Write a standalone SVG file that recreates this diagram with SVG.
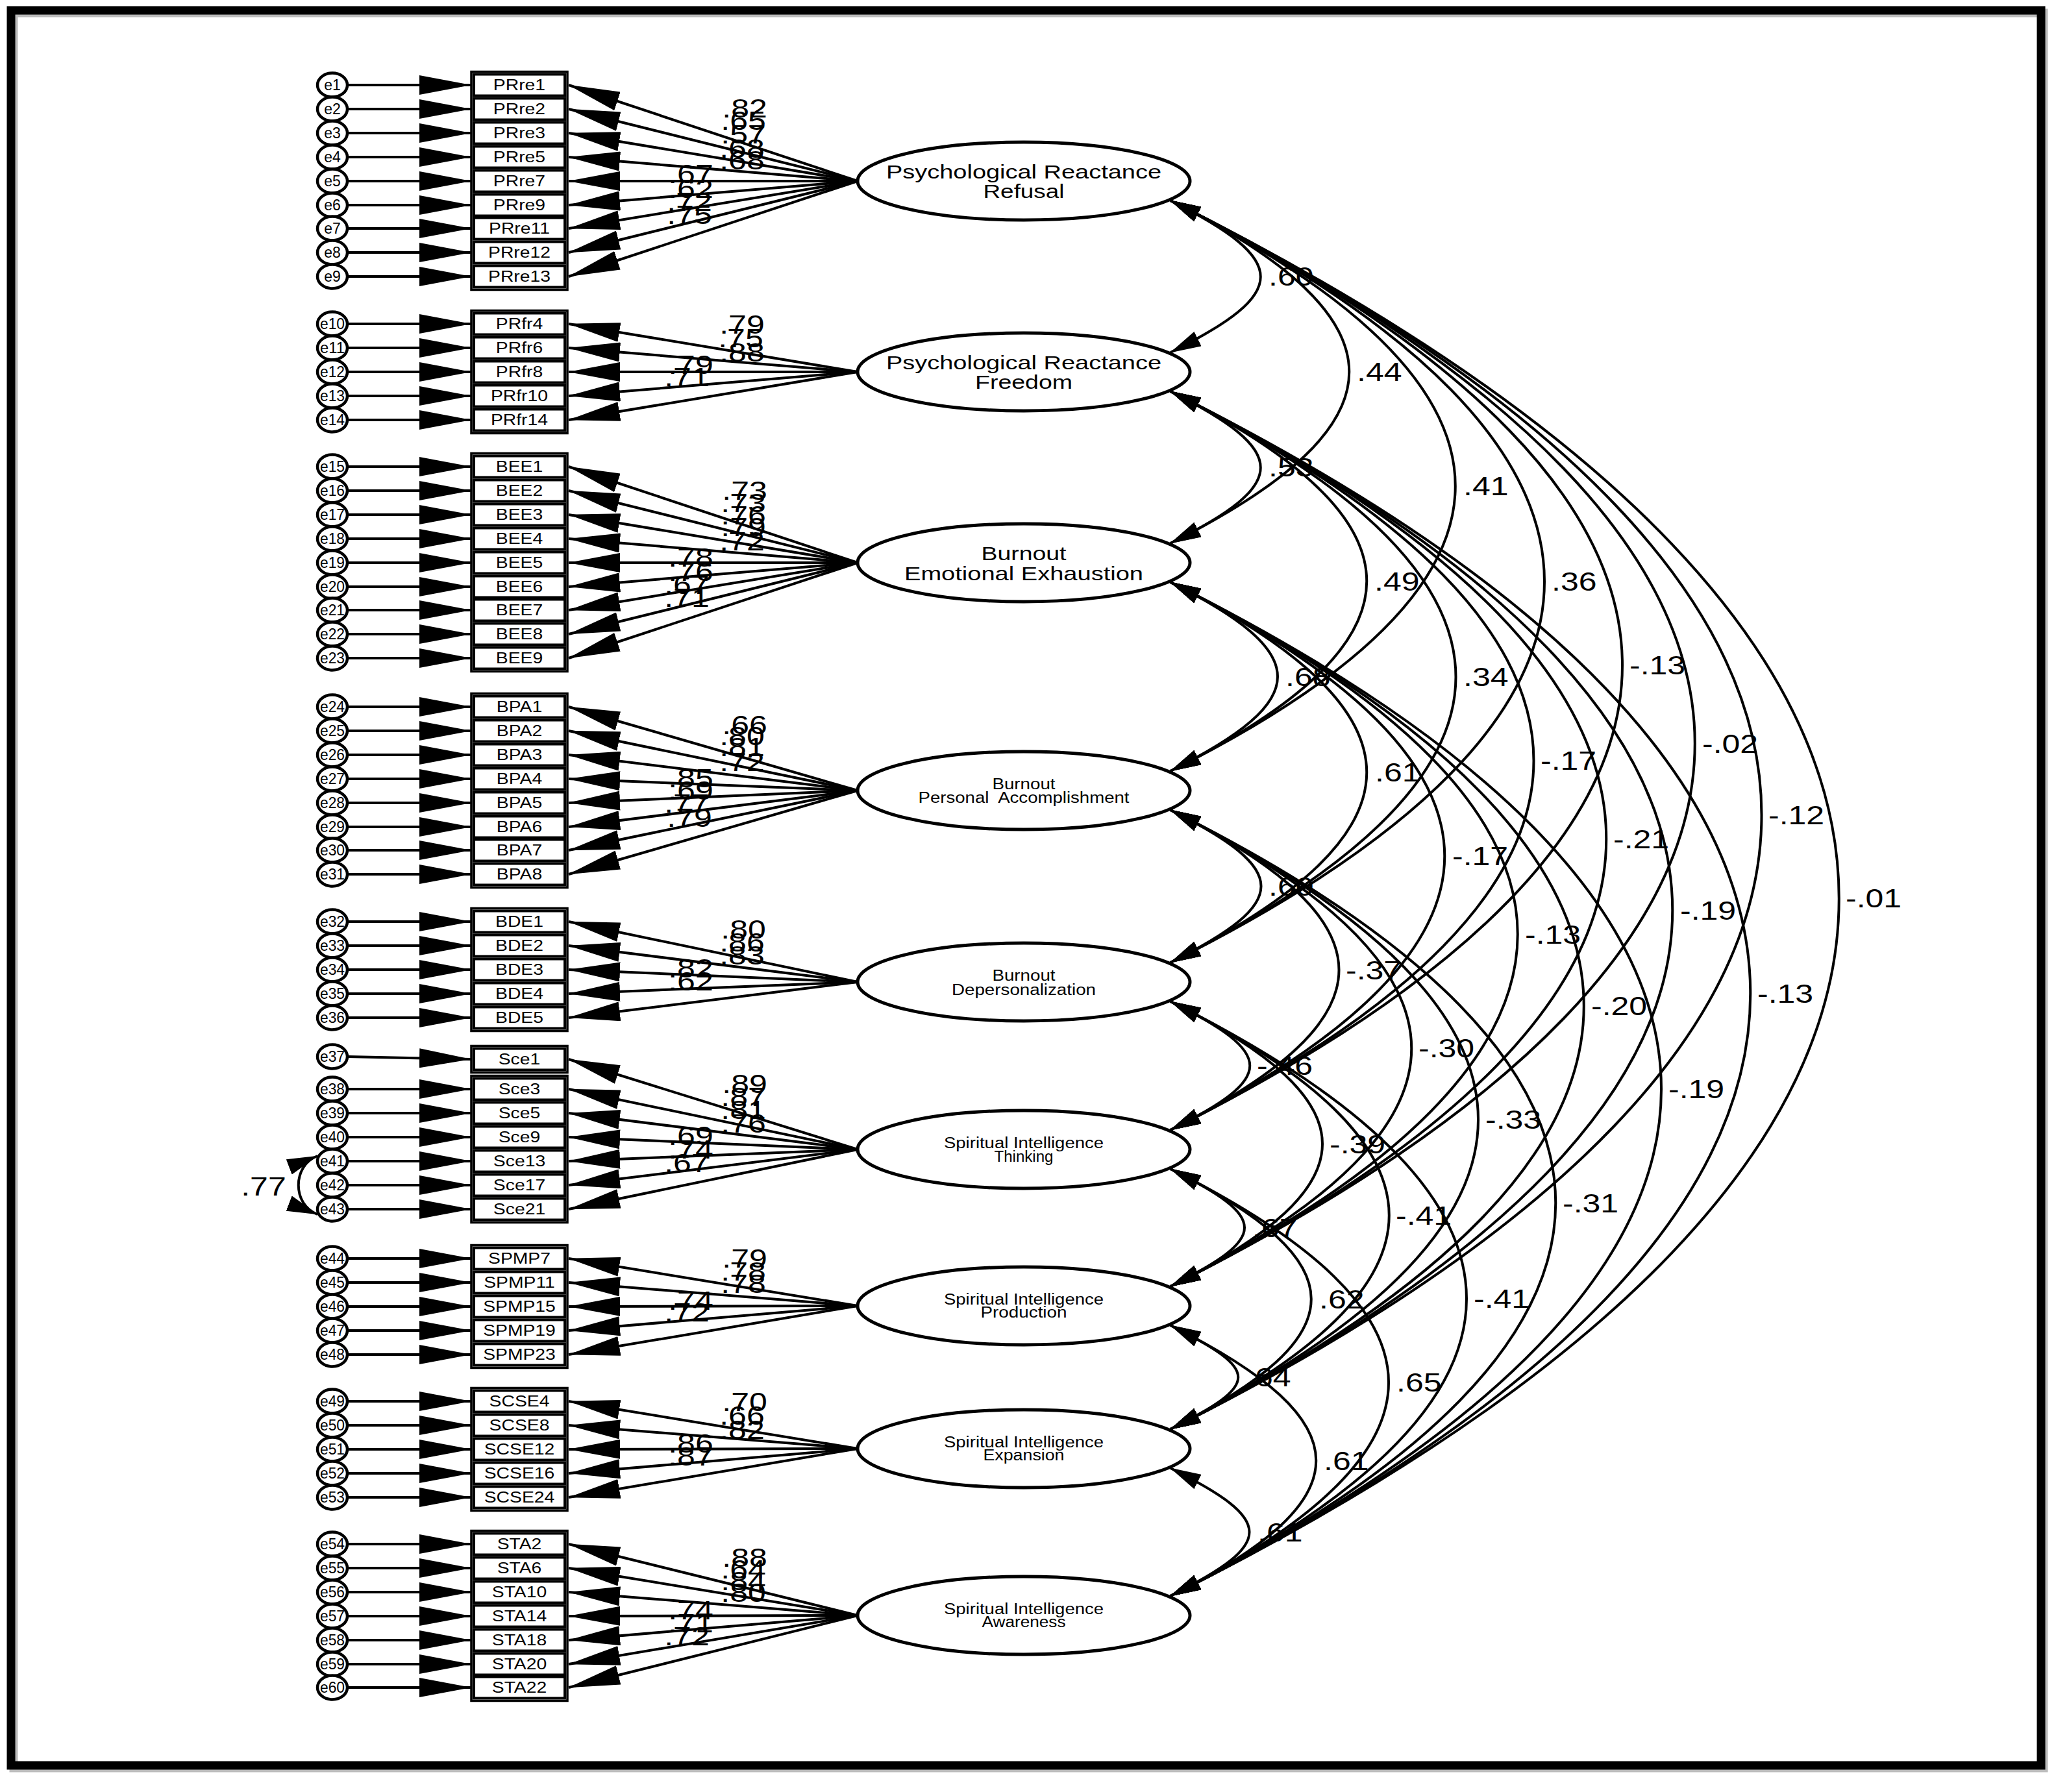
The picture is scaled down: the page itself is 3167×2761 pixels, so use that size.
<svg xmlns="http://www.w3.org/2000/svg" width="3167" height="2761" viewBox="0 0 3167 2761">
<style>
text{font-family:"Liberation Sans",Arial,sans-serif;fill:#000}
.err ellipse{fill:#fff;stroke:#000;stroke-width:4.5}
.err text{font-size:23px;text-anchor:middle}
.obs rect{fill:#fff;stroke:#000;stroke-width:4}
.obs text{font-size:24px;text-anchor:middle;transform-box:fill-box;transform-origin:center;transform:scaleX(1.18)}
.frame rect{fill:none;stroke:#000;stroke-width:3.5}
.lat ellipse{fill:#fff;stroke:#000;stroke-width:5}
.lat text{text-anchor:middle}
.lat .b{font-size:29px}
.lat .s{font-size:23px}
.arr line{stroke:#000;stroke-width:4;fill:none;marker-end:url(#ah)}
.cov path{stroke:#000;stroke-width:4;fill:none;marker-start:url(#ch);marker-end:url(#ch)}
.lbl text{font-size:41px;transform-box:fill-box;transform:scaleX(1.22)}
.ld text{text-anchor:middle;transform-origin:center}
.cl text{transform-origin:left center}
</style>
<defs>
<marker id="ah" viewBox="0 0 80 30" markerWidth="80" markerHeight="30" refX="79" refY="15" orient="auto" markerUnits="userSpaceOnUse"><path d="M0,0 L80,15 L0,30 z" fill="#000"/></marker>
<marker id="ch" viewBox="0 0 48 25" markerWidth="48" markerHeight="25" refX="47" refY="12.5" orient="auto-start-reverse" markerUnits="userSpaceOnUse"><path d="M0,0 L48,12.5 L0,25 z" fill="#000"/></marker>
</defs>
<rect x="0" y="0" width="3167" height="2761" fill="#fff"/>
<rect x="21" y="20" width="3127" height="2704" fill="none" stroke="#bbb" stroke-width="13"/>
<rect x="17" y="16" width="3127" height="2704" fill="none" stroke="#000" stroke-width="13"/>

<g id="connectors">
<g class="arr">
<line x1="535" y1="131" x2="725" y2="131"/><line x1="535" y1="168" x2="725" y2="168"/><line x1="535" y1="205" x2="725" y2="205"/><line x1="535" y1="242" x2="725" y2="242"/><line x1="535" y1="279" x2="725" y2="279"/><line x1="535" y1="316" x2="725" y2="316"/><line x1="535" y1="352" x2="725" y2="352"/><line x1="535" y1="389" x2="725" y2="389"/><line x1="535" y1="426" x2="725" y2="426"/>
<line x1="535" y1="499" x2="725" y2="499"/><line x1="535" y1="536" x2="725" y2="536"/><line x1="535" y1="573" x2="725" y2="573"/><line x1="535" y1="610" x2="725" y2="610"/><line x1="535" y1="647" x2="725" y2="647"/>
<line x1="535" y1="719" x2="725" y2="719"/><line x1="535" y1="756" x2="725" y2="756"/><line x1="535" y1="793" x2="725" y2="793"/><line x1="535" y1="830" x2="725" y2="830"/><line x1="535" y1="867" x2="725" y2="867"/><line x1="535" y1="904" x2="725" y2="904"/><line x1="535" y1="940" x2="725" y2="940"/><line x1="535" y1="977" x2="725" y2="977"/><line x1="535" y1="1014" x2="725" y2="1014"/>
<line x1="535" y1="1089" x2="725" y2="1089"/><line x1="535" y1="1126" x2="725" y2="1126"/><line x1="535" y1="1163" x2="725" y2="1163"/><line x1="535" y1="1200" x2="725" y2="1200"/><line x1="535" y1="1237" x2="725" y2="1237"/><line x1="535" y1="1274" x2="725" y2="1274"/><line x1="535" y1="1310" x2="725" y2="1310"/><line x1="535" y1="1347" x2="725" y2="1347"/>
<line x1="535" y1="1420" x2="725" y2="1420"/><line x1="535" y1="1457" x2="725" y2="1457"/><line x1="535" y1="1494" x2="725" y2="1494"/><line x1="535" y1="1531" x2="725" y2="1531"/><line x1="535" y1="1568" x2="725" y2="1568"/>
<line x1="535" y1="1628" x2="725" y2="1632"/><line x1="535" y1="1678" x2="725" y2="1678"/><line x1="535" y1="1715" x2="725" y2="1715"/><line x1="535" y1="1752" x2="725" y2="1752"/><line x1="535" y1="1789" x2="725" y2="1789"/><line x1="535" y1="1826" x2="725" y2="1826"/><line x1="535" y1="1863" x2="725" y2="1863"/>
<line x1="535" y1="1939" x2="725" y2="1939"/><line x1="535" y1="1976" x2="725" y2="1976"/><line x1="535" y1="2013" x2="725" y2="2013"/><line x1="535" y1="2050" x2="725" y2="2050"/><line x1="535" y1="2087" x2="725" y2="2087"/>
<line x1="535" y1="2159" x2="725" y2="2159"/><line x1="535" y1="2196" x2="725" y2="2196"/><line x1="535" y1="2233" x2="725" y2="2233"/><line x1="535" y1="2270" x2="725" y2="2270"/><line x1="535" y1="2307" x2="725" y2="2307"/>
<line x1="535" y1="2379" x2="725" y2="2379"/><line x1="535" y1="2416" x2="725" y2="2416"/><line x1="535" y1="2453" x2="725" y2="2453"/><line x1="535" y1="2490" x2="725" y2="2490"/><line x1="535" y1="2527" x2="725" y2="2527"/><line x1="535" y1="2564" x2="725" y2="2564"/><line x1="535" y1="2600" x2="725" y2="2600"/>

<line x1="1321" y1="279" x2="876" y2="131"/><line x1="1321" y1="279" x2="876" y2="168"/><line x1="1321" y1="279" x2="876" y2="205"/><line x1="1321" y1="279" x2="876" y2="242"/><line x1="1321" y1="279" x2="876" y2="279"/><line x1="1321" y1="279" x2="876" y2="316"/><line x1="1321" y1="279" x2="876" y2="352"/><line x1="1321" y1="279" x2="876" y2="389"/><line x1="1321" y1="279" x2="876" y2="426"/>
<line x1="1321" y1="573" x2="876" y2="499"/><line x1="1321" y1="573" x2="876" y2="536"/><line x1="1321" y1="573" x2="876" y2="573"/><line x1="1321" y1="573" x2="876" y2="610"/><line x1="1321" y1="573" x2="876" y2="647"/>
<line x1="1321" y1="867" x2="876" y2="719"/><line x1="1321" y1="867" x2="876" y2="756"/><line x1="1321" y1="867" x2="876" y2="793"/><line x1="1321" y1="867" x2="876" y2="830"/><line x1="1321" y1="867" x2="876" y2="867"/><line x1="1321" y1="867" x2="876" y2="904"/><line x1="1321" y1="867" x2="876" y2="940"/><line x1="1321" y1="867" x2="876" y2="977"/><line x1="1321" y1="867" x2="876" y2="1014"/>
<line x1="1321" y1="1218" x2="876" y2="1089"/><line x1="1321" y1="1218" x2="876" y2="1126"/><line x1="1321" y1="1218" x2="876" y2="1163"/><line x1="1321" y1="1218" x2="876" y2="1200"/><line x1="1321" y1="1218" x2="876" y2="1237"/><line x1="1321" y1="1218" x2="876" y2="1274"/><line x1="1321" y1="1218" x2="876" y2="1310"/><line x1="1321" y1="1218" x2="876" y2="1347"/>
<line x1="1321" y1="1513" x2="876" y2="1420"/><line x1="1321" y1="1513" x2="876" y2="1457"/><line x1="1321" y1="1513" x2="876" y2="1494"/><line x1="1321" y1="1513" x2="876" y2="1531"/><line x1="1321" y1="1513" x2="876" y2="1568"/>
<line x1="1321" y1="1771" x2="876" y2="1632"/><line x1="1321" y1="1771" x2="876" y2="1678"/><line x1="1321" y1="1771" x2="876" y2="1715"/><line x1="1321" y1="1771" x2="876" y2="1752"/><line x1="1321" y1="1771" x2="876" y2="1789"/><line x1="1321" y1="1771" x2="876" y2="1826"/><line x1="1321" y1="1771" x2="876" y2="1863"/>
<line x1="1321" y1="2012" x2="876" y2="1939"/><line x1="1321" y1="2012" x2="876" y2="1976"/><line x1="1321" y1="2012" x2="876" y2="2013"/><line x1="1321" y1="2012" x2="876" y2="2050"/><line x1="1321" y1="2012" x2="876" y2="2087"/>
<line x1="1321" y1="2232" x2="876" y2="2159"/><line x1="1321" y1="2232" x2="876" y2="2196"/><line x1="1321" y1="2232" x2="876" y2="2233"/><line x1="1321" y1="2232" x2="876" y2="2270"/><line x1="1321" y1="2232" x2="876" y2="2307"/>
<line x1="1321" y1="2489" x2="876" y2="2379"/><line x1="1321" y1="2489" x2="876" y2="2416"/><line x1="1321" y1="2489" x2="876" y2="2453"/><line x1="1321" y1="2489" x2="876" y2="2490"/><line x1="1321" y1="2489" x2="876" y2="2527"/><line x1="1321" y1="2489" x2="876" y2="2564"/><line x1="1321" y1="2489" x2="876" y2="2600"/>
</g>
<g class="cov">
<path d="M489,1781 C450,1796 450,1856 489,1871"/>
<path d="M1803,309 C1988,402 1988,451 1803,543"/>
<path d="M1803,309 C2170,493 2170,653 1803,837"/>
<path d="M1803,309 C2388,602 2388,896 1803,1188"/>
<path d="M1803,309 C2571,693 2571,1099 1803,1483"/>
<path d="M1803,309 C2731,773 2731,1277 1803,1741"/>
<path d="M1803,309 C2880,848 2880,1443 1803,1982"/>
<path d="M1803,309 C3017,916 3017,1595 1803,2202"/>
<path d="M1803,309 C3176,996 3176,1773 1803,2459"/>
<path d="M1803,603 C1988,696 1988,745 1803,837"/>
<path d="M1803,603 C2206,804 2206,987 1803,1188"/>
<path d="M1803,603 C2389,896 2389,1190 1803,1483"/>
<path d="M1803,603 C2549,976 2549,1368 1803,1741"/>
<path d="M1803,603 C2698,1050 2698,1535 1803,1982"/>
<path d="M1803,603 C2834,1119 2834,1686 1803,2202"/>
<path d="M1803,603 C2994,1198 2994,1864 1803,2459"/>
<path d="M1803,897 C2023,1007 2023,1078 1803,1188"/>
<path d="M1803,897 C2206,1099 2206,1281 1803,1483"/>
<path d="M1803,897 C2366,1179 2366,1459 1803,1741"/>
<path d="M1803,897 C2516,1253 2516,1626 1803,1982"/>
<path d="M1803,897 C2652,1322 2652,1778 1803,2202"/>
<path d="M1803,897 C2811,1401 2811,1955 1803,2459"/>
<path d="M1803,1248 C1989,1341 1989,1390 1803,1483"/>
<path d="M1803,1248 C2149,1421 2149,1568 1803,1741"/>
<path d="M1803,1248 C2298,1496 2298,1735 1803,1982"/>
<path d="M1803,1248 C2435,1564 2435,1886 1803,2202"/>
<path d="M1803,1248 C2594,1643 2594,2064 1803,2459"/>
<path d="M1803,1543 C1966,1624 1966,1660 1803,1741"/>
<path d="M1803,1543 C2115,1699 2115,1826 1803,1982"/>
<path d="M1803,1543 C2252,1767 2252,1978 1803,2202"/>
<path d="M1803,1543 C2411,1847 2411,2155 1803,2459"/>
<path d="M1803,1801 C1955,1877 1955,1906 1803,1982"/>
<path d="M1803,1801 C2092,1945 2092,2058 1803,2202"/>
<path d="M1803,1801 C2251,2025 2251,2235 1803,2459"/>
<path d="M1803,2042 C1942,2112 1942,2132 1803,2202"/>
<path d="M1803,2042 C2102,2191 2102,2310 1803,2459"/>
<path d="M1803,2262 C1965,2343 1965,2378 1803,2459"/>
</g>
</g>

<g id="frames" class="frame">
<rect x="726" y="110.5" width="148" height="336"/>
<rect x="726" y="478.5" width="148" height="189"/>
<rect x="726" y="698.5" width="148" height="336"/>
<rect x="726" y="1068.5" width="148" height="299"/>
<rect x="726" y="1399.5" width="148" height="189"/>
<rect x="726" y="1611.5" width="148" height="41"/>
<rect x="726" y="1657.5" width="148" height="226"/>
<rect x="726" y="1918.5" width="148" height="189"/>
<rect x="726" y="2138.5" width="148" height="189"/>
<rect x="726" y="2358.5" width="148" height="262"/>
</g>

<g id="observed" class="obs">
<g id="PRre1"><rect x="730" y="114.5" width="140" height="33"/><text x="800" y="139">PRre1</text></g>
<g id="PRre2"><rect x="730" y="151.5" width="140" height="33"/><text x="800" y="176">PRre2</text></g>
<g id="PRre3"><rect x="730" y="188.5" width="140" height="33"/><text x="800" y="213">PRre3</text></g>
<g id="PRre5"><rect x="730" y="225.5" width="140" height="33"/><text x="800" y="250">PRre5</text></g>
<g id="PRre7"><rect x="730" y="262.5" width="140" height="33"/><text x="800" y="287">PRre7</text></g>
<g id="PRre9"><rect x="730" y="299.5" width="140" height="33"/><text x="800" y="324">PRre9</text></g>
<g id="PRre11"><rect x="730" y="335.5" width="140" height="33"/><text x="800" y="360">PRre11</text></g>
<g id="PRre12"><rect x="730" y="372.5" width="140" height="33"/><text x="800" y="397">PRre12</text></g>
<g id="PRre13"><rect x="730" y="409.5" width="140" height="33"/><text x="800" y="434">PRre13</text></g>
<g id="PRfr4"><rect x="730" y="482.5" width="140" height="33"/><text x="800" y="507">PRfr4</text></g>
<g id="PRfr6"><rect x="730" y="519.5" width="140" height="33"/><text x="800" y="544">PRfr6</text></g>
<g id="PRfr8"><rect x="730" y="556.5" width="140" height="33"/><text x="800" y="581">PRfr8</text></g>
<g id="PRfr10"><rect x="730" y="593.5" width="140" height="33"/><text x="800" y="618">PRfr10</text></g>
<g id="PRfr14"><rect x="730" y="630.5" width="140" height="33"/><text x="800" y="655">PRfr14</text></g>
<g id="BEE1"><rect x="730" y="702.5" width="140" height="33"/><text x="800" y="727">BEE1</text></g>
<g id="BEE2"><rect x="730" y="739.5" width="140" height="33"/><text x="800" y="764">BEE2</text></g>
<g id="BEE3"><rect x="730" y="776.5" width="140" height="33"/><text x="800" y="801">BEE3</text></g>
<g id="BEE4"><rect x="730" y="813.5" width="140" height="33"/><text x="800" y="838">BEE4</text></g>
<g id="BEE5"><rect x="730" y="850.5" width="140" height="33"/><text x="800" y="875">BEE5</text></g>
<g id="BEE6"><rect x="730" y="887.5" width="140" height="33"/><text x="800" y="912">BEE6</text></g>
<g id="BEE7"><rect x="730" y="923.5" width="140" height="33"/><text x="800" y="948">BEE7</text></g>
<g id="BEE8"><rect x="730" y="960.5" width="140" height="33"/><text x="800" y="985">BEE8</text></g>
<g id="BEE9"><rect x="730" y="997.5" width="140" height="33"/><text x="800" y="1022">BEE9</text></g>
<g id="BPA1"><rect x="730" y="1072.5" width="140" height="33"/><text x="800" y="1097">BPA1</text></g>
<g id="BPA2"><rect x="730" y="1109.5" width="140" height="33"/><text x="800" y="1134">BPA2</text></g>
<g id="BPA3"><rect x="730" y="1146.5" width="140" height="33"/><text x="800" y="1171">BPA3</text></g>
<g id="BPA4"><rect x="730" y="1183.5" width="140" height="33"/><text x="800" y="1208">BPA4</text></g>
<g id="BPA5"><rect x="730" y="1220.5" width="140" height="33"/><text x="800" y="1245">BPA5</text></g>
<g id="BPA6"><rect x="730" y="1257.5" width="140" height="33"/><text x="800" y="1282">BPA6</text></g>
<g id="BPA7"><rect x="730" y="1293.5" width="140" height="33"/><text x="800" y="1318">BPA7</text></g>
<g id="BPA8"><rect x="730" y="1330.5" width="140" height="33"/><text x="800" y="1355">BPA8</text></g>
<g id="BDE1"><rect x="730" y="1403.5" width="140" height="33"/><text x="800" y="1428">BDE1</text></g>
<g id="BDE2"><rect x="730" y="1440.5" width="140" height="33"/><text x="800" y="1465">BDE2</text></g>
<g id="BDE3"><rect x="730" y="1477.5" width="140" height="33"/><text x="800" y="1502">BDE3</text></g>
<g id="BDE4"><rect x="730" y="1514.5" width="140" height="33"/><text x="800" y="1539">BDE4</text></g>
<g id="BDE5"><rect x="730" y="1551.5" width="140" height="33"/><text x="800" y="1576">BDE5</text></g>
<g id="Sce1"><rect x="730" y="1615.5" width="140" height="33"/><text x="800" y="1640">Sce1</text></g>
<g id="Sce3"><rect x="730" y="1661.5" width="140" height="33"/><text x="800" y="1686">Sce3</text></g>
<g id="Sce5"><rect x="730" y="1698.5" width="140" height="33"/><text x="800" y="1723">Sce5</text></g>
<g id="Sce9"><rect x="730" y="1735.5" width="140" height="33"/><text x="800" y="1760">Sce9</text></g>
<g id="Sce13"><rect x="730" y="1772.5" width="140" height="33"/><text x="800" y="1797">Sce13</text></g>
<g id="Sce17"><rect x="730" y="1809.5" width="140" height="33"/><text x="800" y="1834">Sce17</text></g>
<g id="Sce21"><rect x="730" y="1846.5" width="140" height="33"/><text x="800" y="1871">Sce21</text></g>
<g id="SPMP7"><rect x="730" y="1922.5" width="140" height="33"/><text x="800" y="1947">SPMP7</text></g>
<g id="SPMP11"><rect x="730" y="1959.5" width="140" height="33"/><text x="800" y="1984">SPMP11</text></g>
<g id="SPMP15"><rect x="730" y="1996.5" width="140" height="33"/><text x="800" y="2021">SPMP15</text></g>
<g id="SPMP19"><rect x="730" y="2033.5" width="140" height="33"/><text x="800" y="2058">SPMP19</text></g>
<g id="SPMP23"><rect x="730" y="2070.5" width="140" height="33"/><text x="800" y="2095">SPMP23</text></g>
<g id="SCSE4"><rect x="730" y="2142.5" width="140" height="33"/><text x="800" y="2167">SCSE4</text></g>
<g id="SCSE8"><rect x="730" y="2179.5" width="140" height="33"/><text x="800" y="2204">SCSE8</text></g>
<g id="SCSE12"><rect x="730" y="2216.5" width="140" height="33"/><text x="800" y="2241">SCSE12</text></g>
<g id="SCSE16"><rect x="730" y="2253.5" width="140" height="33"/><text x="800" y="2278">SCSE16</text></g>
<g id="SCSE24"><rect x="730" y="2290.5" width="140" height="33"/><text x="800" y="2315">SCSE24</text></g>
<g id="STA2"><rect x="730" y="2362.5" width="140" height="33"/><text x="800" y="2387">STA2</text></g>
<g id="STA6"><rect x="730" y="2399.5" width="140" height="33"/><text x="800" y="2424">STA6</text></g>
<g id="STA10"><rect x="730" y="2436.5" width="140" height="33"/><text x="800" y="2461">STA10</text></g>
<g id="STA14"><rect x="730" y="2473.5" width="140" height="33"/><text x="800" y="2498">STA14</text></g>
<g id="STA18"><rect x="730" y="2510.5" width="140" height="33"/><text x="800" y="2535">STA18</text></g>
<g id="STA20"><rect x="730" y="2547.5" width="140" height="33"/><text x="800" y="2572">STA20</text></g>
<g id="STA22"><rect x="730" y="2583.5" width="140" height="33"/><text x="800" y="2608">STA22</text></g>
</g>

<g id="errors" class="err">
<g id="e1"><ellipse cx="512" cy="131" rx="23" ry="18.5"/><text x="512" y="139">e1</text></g>
<g id="e2"><ellipse cx="512" cy="168" rx="23" ry="18.5"/><text x="512" y="176">e2</text></g>
<g id="e3"><ellipse cx="512" cy="205" rx="23" ry="18.5"/><text x="512" y="213">e3</text></g>
<g id="e4"><ellipse cx="512" cy="242" rx="23" ry="18.5"/><text x="512" y="250">e4</text></g>
<g id="e5"><ellipse cx="512" cy="279" rx="23" ry="18.5"/><text x="512" y="287">e5</text></g>
<g id="e6"><ellipse cx="512" cy="316" rx="23" ry="18.5"/><text x="512" y="324">e6</text></g>
<g id="e7"><ellipse cx="512" cy="352" rx="23" ry="18.5"/><text x="512" y="360">e7</text></g>
<g id="e8"><ellipse cx="512" cy="389" rx="23" ry="18.5"/><text x="512" y="397">e8</text></g>
<g id="e9"><ellipse cx="512" cy="426" rx="23" ry="18.5"/><text x="512" y="434">e9</text></g>
<g id="e10"><ellipse cx="512" cy="499" rx="23" ry="18.5"/><text x="512" y="507" textLength="38" lengthAdjust="spacingAndGlyphs">e10</text></g>
<g id="e11"><ellipse cx="512" cy="536" rx="23" ry="18.5"/><text x="512" y="544" textLength="38" lengthAdjust="spacingAndGlyphs">e11</text></g>
<g id="e12"><ellipse cx="512" cy="573" rx="23" ry="18.5"/><text x="512" y="581" textLength="38" lengthAdjust="spacingAndGlyphs">e12</text></g>
<g id="e13"><ellipse cx="512" cy="610" rx="23" ry="18.5"/><text x="512" y="618" textLength="38" lengthAdjust="spacingAndGlyphs">e13</text></g>
<g id="e14"><ellipse cx="512" cy="647" rx="23" ry="18.5"/><text x="512" y="655" textLength="38" lengthAdjust="spacingAndGlyphs">e14</text></g>
<g id="e15"><ellipse cx="512" cy="719" rx="23" ry="18.5"/><text x="512" y="727" textLength="38" lengthAdjust="spacingAndGlyphs">e15</text></g>
<g id="e16"><ellipse cx="512" cy="756" rx="23" ry="18.5"/><text x="512" y="764" textLength="38" lengthAdjust="spacingAndGlyphs">e16</text></g>
<g id="e17"><ellipse cx="512" cy="793" rx="23" ry="18.5"/><text x="512" y="801" textLength="38" lengthAdjust="spacingAndGlyphs">e17</text></g>
<g id="e18"><ellipse cx="512" cy="830" rx="23" ry="18.5"/><text x="512" y="838" textLength="38" lengthAdjust="spacingAndGlyphs">e18</text></g>
<g id="e19"><ellipse cx="512" cy="867" rx="23" ry="18.5"/><text x="512" y="875" textLength="38" lengthAdjust="spacingAndGlyphs">e19</text></g>
<g id="e20"><ellipse cx="512" cy="904" rx="23" ry="18.5"/><text x="512" y="912" textLength="38" lengthAdjust="spacingAndGlyphs">e20</text></g>
<g id="e21"><ellipse cx="512" cy="940" rx="23" ry="18.5"/><text x="512" y="948" textLength="38" lengthAdjust="spacingAndGlyphs">e21</text></g>
<g id="e22"><ellipse cx="512" cy="977" rx="23" ry="18.5"/><text x="512" y="985" textLength="38" lengthAdjust="spacingAndGlyphs">e22</text></g>
<g id="e23"><ellipse cx="512" cy="1014" rx="23" ry="18.5"/><text x="512" y="1022" textLength="38" lengthAdjust="spacingAndGlyphs">e23</text></g>
<g id="e24"><ellipse cx="512" cy="1089" rx="23" ry="18.5"/><text x="512" y="1097" textLength="38" lengthAdjust="spacingAndGlyphs">e24</text></g>
<g id="e25"><ellipse cx="512" cy="1126" rx="23" ry="18.5"/><text x="512" y="1134" textLength="38" lengthAdjust="spacingAndGlyphs">e25</text></g>
<g id="e26"><ellipse cx="512" cy="1163" rx="23" ry="18.5"/><text x="512" y="1171" textLength="38" lengthAdjust="spacingAndGlyphs">e26</text></g>
<g id="e27"><ellipse cx="512" cy="1200" rx="23" ry="18.5"/><text x="512" y="1208" textLength="38" lengthAdjust="spacingAndGlyphs">e27</text></g>
<g id="e28"><ellipse cx="512" cy="1237" rx="23" ry="18.5"/><text x="512" y="1245" textLength="38" lengthAdjust="spacingAndGlyphs">e28</text></g>
<g id="e29"><ellipse cx="512" cy="1274" rx="23" ry="18.5"/><text x="512" y="1282" textLength="38" lengthAdjust="spacingAndGlyphs">e29</text></g>
<g id="e30"><ellipse cx="512" cy="1310" rx="23" ry="18.5"/><text x="512" y="1318" textLength="38" lengthAdjust="spacingAndGlyphs">e30</text></g>
<g id="e31"><ellipse cx="512" cy="1347" rx="23" ry="18.5"/><text x="512" y="1355" textLength="38" lengthAdjust="spacingAndGlyphs">e31</text></g>
<g id="e32"><ellipse cx="512" cy="1420" rx="23" ry="18.5"/><text x="512" y="1428" textLength="38" lengthAdjust="spacingAndGlyphs">e32</text></g>
<g id="e33"><ellipse cx="512" cy="1457" rx="23" ry="18.5"/><text x="512" y="1465" textLength="38" lengthAdjust="spacingAndGlyphs">e33</text></g>
<g id="e34"><ellipse cx="512" cy="1494" rx="23" ry="18.5"/><text x="512" y="1502" textLength="38" lengthAdjust="spacingAndGlyphs">e34</text></g>
<g id="e35"><ellipse cx="512" cy="1531" rx="23" ry="18.5"/><text x="512" y="1539" textLength="38" lengthAdjust="spacingAndGlyphs">e35</text></g>
<g id="e36"><ellipse cx="512" cy="1568" rx="23" ry="18.5"/><text x="512" y="1576" textLength="38" lengthAdjust="spacingAndGlyphs">e36</text></g>
<g id="e37"><ellipse cx="512" cy="1628" rx="23" ry="18.5"/><text x="512" y="1636" textLength="38" lengthAdjust="spacingAndGlyphs">e37</text></g>
<g id="e38"><ellipse cx="512" cy="1678" rx="23" ry="18.5"/><text x="512" y="1686" textLength="38" lengthAdjust="spacingAndGlyphs">e38</text></g>
<g id="e39"><ellipse cx="512" cy="1715" rx="23" ry="18.5"/><text x="512" y="1723" textLength="38" lengthAdjust="spacingAndGlyphs">e39</text></g>
<g id="e40"><ellipse cx="512" cy="1752" rx="23" ry="18.5"/><text x="512" y="1760" textLength="38" lengthAdjust="spacingAndGlyphs">e40</text></g>
<g id="e41"><ellipse cx="512" cy="1789" rx="23" ry="18.5"/><text x="512" y="1797" textLength="38" lengthAdjust="spacingAndGlyphs">e41</text></g>
<g id="e42"><ellipse cx="512" cy="1826" rx="23" ry="18.5"/><text x="512" y="1834" textLength="38" lengthAdjust="spacingAndGlyphs">e42</text></g>
<g id="e43"><ellipse cx="512" cy="1863" rx="23" ry="18.5"/><text x="512" y="1871" textLength="38" lengthAdjust="spacingAndGlyphs">e43</text></g>
<g id="e44"><ellipse cx="512" cy="1939" rx="23" ry="18.5"/><text x="512" y="1947" textLength="38" lengthAdjust="spacingAndGlyphs">e44</text></g>
<g id="e45"><ellipse cx="512" cy="1976" rx="23" ry="18.5"/><text x="512" y="1984" textLength="38" lengthAdjust="spacingAndGlyphs">e45</text></g>
<g id="e46"><ellipse cx="512" cy="2013" rx="23" ry="18.5"/><text x="512" y="2021" textLength="38" lengthAdjust="spacingAndGlyphs">e46</text></g>
<g id="e47"><ellipse cx="512" cy="2050" rx="23" ry="18.5"/><text x="512" y="2058" textLength="38" lengthAdjust="spacingAndGlyphs">e47</text></g>
<g id="e48"><ellipse cx="512" cy="2087" rx="23" ry="18.5"/><text x="512" y="2095" textLength="38" lengthAdjust="spacingAndGlyphs">e48</text></g>
<g id="e49"><ellipse cx="512" cy="2159" rx="23" ry="18.5"/><text x="512" y="2167" textLength="38" lengthAdjust="spacingAndGlyphs">e49</text></g>
<g id="e50"><ellipse cx="512" cy="2196" rx="23" ry="18.5"/><text x="512" y="2204" textLength="38" lengthAdjust="spacingAndGlyphs">e50</text></g>
<g id="e51"><ellipse cx="512" cy="2233" rx="23" ry="18.5"/><text x="512" y="2241" textLength="38" lengthAdjust="spacingAndGlyphs">e51</text></g>
<g id="e52"><ellipse cx="512" cy="2270" rx="23" ry="18.5"/><text x="512" y="2278" textLength="38" lengthAdjust="spacingAndGlyphs">e52</text></g>
<g id="e53"><ellipse cx="512" cy="2307" rx="23" ry="18.5"/><text x="512" y="2315" textLength="38" lengthAdjust="spacingAndGlyphs">e53</text></g>
<g id="e54"><ellipse cx="512" cy="2379" rx="23" ry="18.5"/><text x="512" y="2387" textLength="38" lengthAdjust="spacingAndGlyphs">e54</text></g>
<g id="e55"><ellipse cx="512" cy="2416" rx="23" ry="18.5"/><text x="512" y="2424" textLength="38" lengthAdjust="spacingAndGlyphs">e55</text></g>
<g id="e56"><ellipse cx="512" cy="2453" rx="23" ry="18.5"/><text x="512" y="2461" textLength="38" lengthAdjust="spacingAndGlyphs">e56</text></g>
<g id="e57"><ellipse cx="512" cy="2490" rx="23" ry="18.5"/><text x="512" y="2498" textLength="38" lengthAdjust="spacingAndGlyphs">e57</text></g>
<g id="e58"><ellipse cx="512" cy="2527" rx="23" ry="18.5"/><text x="512" y="2535" textLength="38" lengthAdjust="spacingAndGlyphs">e58</text></g>
<g id="e59"><ellipse cx="512" cy="2564" rx="23" ry="18.5"/><text x="512" y="2572" textLength="38" lengthAdjust="spacingAndGlyphs">e59</text></g>
<g id="e60"><ellipse cx="512" cy="2600" rx="23" ry="18.5"/><text x="512" y="2608" textLength="38" lengthAdjust="spacingAndGlyphs">e60</text></g>
</g>

<g id="latents" class="lat">
<g id="PR_Refusal"><ellipse cx="1577" cy="279" rx="256" ry="60"/><text class="b" x="1577" y="275" textLength="424" lengthAdjust="spacingAndGlyphs">Psychological Reactance</text><text class="b" x="1577" y="305" textLength="125" lengthAdjust="spacingAndGlyphs">Refusal</text></g>
<g id="PR_Freedom"><ellipse cx="1577" cy="573" rx="256" ry="60"/><text class="b" x="1577" y="569" textLength="424" lengthAdjust="spacingAndGlyphs">Psychological Reactance</text><text class="b" x="1577" y="599" textLength="150" lengthAdjust="spacingAndGlyphs">Freedom</text></g>
<g id="Burnout_EE"><ellipse cx="1577" cy="867" rx="256" ry="60"/><text class="b" x="1577" y="863" textLength="131" lengthAdjust="spacingAndGlyphs">Burnout</text><text class="b" x="1577" y="894" textLength="368" lengthAdjust="spacingAndGlyphs">Emotional Exhaustion</text></g>
<g id="Burnout_PA"><ellipse cx="1577" cy="1218" rx="256" ry="60"/><text class="s" x="1577" y="1216" textLength="97" lengthAdjust="spacingAndGlyphs">Burnout</text><text class="s" x="1577" y="1237" textLength="325" lengthAdjust="spacingAndGlyphs" xml:space="preserve">Personal  Accomplishment</text></g>
<g id="Burnout_DP"><ellipse cx="1577" cy="1513" rx="256" ry="60"/><text class="s" x="1577" y="1511" textLength="97" lengthAdjust="spacingAndGlyphs">Burnout</text><text class="s" x="1577" y="1533" textLength="222" lengthAdjust="spacingAndGlyphs">Depersonalization</text></g>
<g id="SI_Thinking"><ellipse cx="1577" cy="1771" rx="256" ry="60"/><text class="s" x="1577" y="1769" textLength="246" lengthAdjust="spacingAndGlyphs">Spiritual Intelligence</text><text class="s" x="1577" y="1790" textLength="91" lengthAdjust="spacingAndGlyphs">Thinking</text></g>
<g id="SI_Production"><ellipse cx="1577" cy="2012" rx="256" ry="60"/><text class="s" x="1577" y="2010" textLength="246" lengthAdjust="spacingAndGlyphs">Spiritual Intelligence</text><text class="s" x="1577" y="2030" textLength="133" lengthAdjust="spacingAndGlyphs">Production</text></g>
<g id="SI_Expansion"><ellipse cx="1577" cy="2232" rx="256" ry="60"/><text class="s" x="1577" y="2230" textLength="246" lengthAdjust="spacingAndGlyphs">Spiritual Intelligence</text><text class="s" x="1577" y="2250" textLength="125" lengthAdjust="spacingAndGlyphs">Expansion</text></g>
<g id="SI_Awareness"><ellipse cx="1577" cy="2489" rx="256" ry="60"/><text class="s" x="1577" y="2487" textLength="246" lengthAdjust="spacingAndGlyphs">Spiritual Intelligence</text><text class="s" x="1577" y="2507" textLength="129" lengthAdjust="spacingAndGlyphs">Awareness</text></g>
</g>

<g id="labels" class="lbl">
<g class="ld">
<text x="1147" y="181">.82</text><text x="1145" y="200">.65</text><text x="1145" y="221">.57</text><text x="1143" y="243">.68</text><text x="1143" y="261">.68</text><text x="1064" y="282">.67</text><text x="1064" y="305">.62</text><text x="1062" y="325">.72</text><text x="1062" y="345">.75</text>
<text x="1143" y="514">.79</text><text x="1141" y="535">.75</text><text x="1143" y="557">.88</text><text x="1064" y="576">.79</text><text x="1058" y="595">.71</text>
<text x="1147" y="770">.73</text><text x="1145" y="789">.73</text><text x="1145" y="808">.76</text><text x="1145" y="826">.79</text><text x="1143" y="848">.72</text><text x="1064" y="873">.78</text><text x="1064" y="895">.76</text><text x="1058" y="915">.67</text><text x="1058" y="935">.71</text>
<text x="1147" y="1131">.66</text><text x="1143" y="1148">.80</text><text x="1143" y="1165">.81</text><text x="1143" y="1188">.72</text><text x="1064" y="1213">.85</text><text x="1064" y="1232">.69</text><text x="1058" y="1252">.77</text><text x="1062" y="1274">.79</text>
<text x="1145" y="1446">.80</text><text x="1143" y="1466">.86</text><text x="1143" y="1486">.83</text><text x="1064" y="1506">.82</text><text x="1064" y="1526">.62</text>
<text x="1147" y="1684">.89</text><text x="1145" y="1704">.87</text><text x="1145" y="1724">.81</text><text x="1145" y="1745">.76</text><text x="1064" y="1764">.69</text><text x="1064" y="1785">.74</text><text x="1058" y="1806">.67</text>
<text x="1147" y="1953">.79</text><text x="1145" y="1973">.78</text><text x="1145" y="1992">.78</text><text x="1064" y="2018">.74</text><text x="1058" y="2036">.72</text>
<text x="1147" y="2174">.70</text><text x="1143" y="2195">.66</text><text x="1143" y="2217">.82</text><text x="1064" y="2238">.86</text><text x="1064" y="2258">.87</text>
<text x="1147" y="2414">.88</text><text x="1145" y="2432">.64</text><text x="1145" y="2450">.84</text><text x="1145" y="2468">.80</text><text x="1064" y="2495">.74</text><text x="1064" y="2515">.71</text><text x="1058" y="2535">.72</text>
<text x="406" y="1842">.77</text>
</g>
<g class="cl">
<text x="1954" y="440">.60</text><text x="2090" y="587">.44</text><text x="2254" y="763">.41</text><text x="2390" y="910">.36</text><text x="2510" y="1039">-.13</text><text x="2622" y="1160">-.02</text><text x="2724" y="1270">-.12</text><text x="2843" y="1398">-.01</text>
<text x="1954" y="734">.53</text><text x="2117" y="910">.49</text><text x="2254" y="1057">.34</text><text x="2373" y="1186">-.17</text><text x="2485" y="1307">-.21</text><text x="2588" y="1417">-.19</text><text x="2707" y="1545">-.13</text>
<text x="1980" y="1057">.68</text><text x="2118" y="1204">.61</text><text x="2237" y="1333">-.17</text><text x="2349" y="1454">-.13</text><text x="2451" y="1564">-.20</text><text x="2570" y="1692">-.19</text>
<text x="1954" y="1380">.60</text><text x="2073" y="1509">-.37</text><text x="2185" y="1629">-.30</text><text x="2288" y="1739">-.33</text><text x="2407" y="1868">-.31</text>
<text x="1936" y="1656">-.46</text><text x="2048" y="1777">-.39</text><text x="2150" y="1887">-.41</text><text x="2270" y="2015">-.41</text>
<text x="1929" y="1906">.67</text><text x="2032" y="2016">.62</text><text x="2151" y="2144">.65</text>
<text x="1919" y="2136">.64</text><text x="2039" y="2265">.61</text>
<text x="1937" y="2375">.61</text>
</g>
</g>
</svg>
